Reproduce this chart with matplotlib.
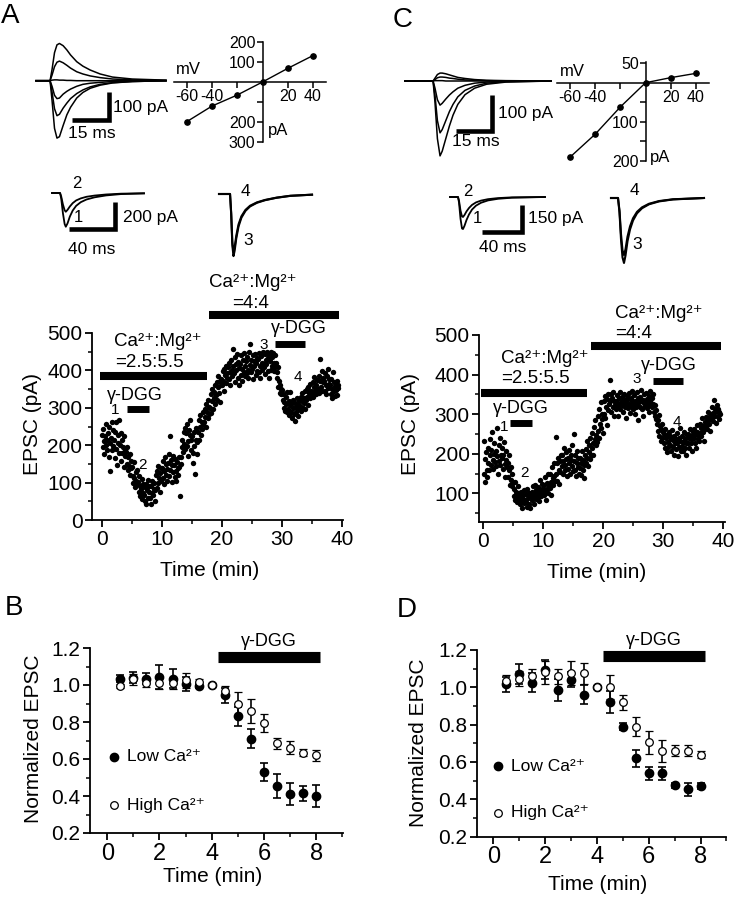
import numpy as np
import matplotlib
matplotlib.use('Agg')
import matplotlib.pyplot as plt
from matplotlib.ticker import MultipleLocator, FormatStrFormatter

plt.rcParams['font.family'] = ['Liberation Sans', 'DejaVu Sans']
plt.rcParams['axes.unicode_minus'] = False

# ---------------- data ----------------
# EPSC amplitude (pA), one row per minute, ~10 samples per minute
epsc_A = [
    [228, 195, 242, 210, 176, 225, 258, 200, 215, 186],
    [232, 168, 250, 205, 131, 220, 186, 262, 198, 240],
    [214, 165, 236, 262, 190, 148, 226, 205, 268, 178],
    [200, 232, 158, 214, 178, 196, 142, 225, 186, 170],
    [182, 150, 196, 134, 168, 145, 176, 121, 158, 140],
    [142, 118, 98, 156, 112, 88, 128, 104, 135, 96],
    [102, 76, 118, 64, 92, 84, 55, 110, 72, 95],
    [68, 88, 52, 96, 42, 80, 108, 60, 74, 92],
    [58, 90, 44, 72, 105, 66, 84, 98, 52, 80],
    [120, 86, 132, 98, 145, 112, 74, 126, 104, 138],
    [140, 112, 158, 96, 132, 168, 120, 150, 104, 136],
    [152, 118, 176, 225, 134, 160, 102, 146, 172, 128],
    [148, 116, 162, 130, 104, 156, 138, 120, 168, 142],
    [64, 168, 150, 196, 214, 182, 236, 204, 246, 190],
    [232, 198, 258, 212, 170, 240, 226, 268, 186, 214],
    [224, 180, 152, 236, 198, 122, 214, 246, 176, 208],
    [236, 268, 214, 282, 250, 226, 262, 244, 290, 258],
    [262, 298, 276, 310, 248, 288, 320, 272, 302, 284],
    [300, 336, 286, 350, 318, 296, 342, 326, 362, 310],
    [334, 368, 322, 356, 386, 340, 372, 316, 362, 378],
    [362, 398, 372, 346, 404, 388, 366, 412, 380, 394],
    [410, 378, 420, 396, 360, 428, 402, 384, 456, 412],
    [392, 436, 368, 418, 400, 444, 380, 422, 406, 362],
    [418, 388, 440, 404, 372, 428, 396, 446, 412, 384],
    [424, 392, 436, 400, 380, 448, 470, 414, 428, 396],
    [404, 440, 376, 426, 412, 444, 388, 420, 434, 398],
    [430, 396, 446, 412, 380, 438, 420, 402, 448, 416],
    [408, 444, 390, 428, 416, 450, 398, 432, 380, 440],
    [426, 450, 402, 436, 412, 446, 420, 398, 440, 408],
    [420, 396, 380, 408, 356, 372, 340, 362, 338, 350],
    [348, 322, 336, 300, 316, 292, 330, 310, 288, 342],
    [296, 318, 280, 308, 342, 290, 312, 274, 300, 322],
    [284, 312, 266, 302, 290, 326, 278, 308, 296, 318],
    [306, 330, 292, 318, 340, 300, 326, 312, 346, 296],
    [322, 350, 330, 308, 356, 340, 364, 326, 346, 334],
    [340, 368, 330, 356, 382, 346, 362, 336, 374, 350],
    [350, 386, 340, 372, 430, 356, 398, 344, 368, 380],
    [372, 346, 392, 360, 338, 384, 404, 352, 376, 364],
    [362, 336, 378, 350, 326, 396, 344, 370, 332, 358],
    [348, 372, 334, 360, 352],
]
epsc_C = [
    [232, 150, 186, 128, 204, 160, 142, 176, 214, 158],
    [196, 238, 172, 210, 255, 184, 162, 226, 200, 178],
    [206, 168, 194, 265, 150, 222, 182, 240, 172, 196],
    [188, 214, 162, 196, 230, 174, 140, 206, 184, 166],
    [176, 140, 198, 158, 122, 166, 134, 148, 118, 128],
    [112, 92, 128, 84, 104, 96, 78, 118, 88, 100],
    [92, 72, 104, 80, 64, 96, 86, 76, 108, 82],
    [78, 98, 66, 110, 88, 74, 102, 92, 62, 96],
    [104, 84, 118, 92, 74, 100, 122, 86, 108, 96],
    [90, 116, 102, 80, 134, 108, 94, 124, 112, 98],
    [120, 96, 140, 108, 84, 126, 112, 148, 102, 118],
    [114, 150, 128, 96, 166, 138, 120, 176, 144, 132],
    [243, 148, 176, 132, 190, 160, 124, 182, 154, 198],
    [168, 196, 150, 182, 214, 172, 158, 204, 186, 144],
    [190, 162, 210, 176, 148, 198, 184, 222, 170, 156],
    [182, 250, 160, 196, 144, 176, 208, 166, 188, 150],
    [164, 190, 146, 176, 206, 158, 184, 138, 172, 196],
    [176, 212, 190, 232, 168, 204, 222, 186, 240, 198],
    [214, 252, 226, 196, 268, 238, 286, 222, 248, 230],
    [258, 296, 240, 312, 276, 330, 264, 300, 288, 252],
    [300, 334, 290, 346, 318, 272, 338, 310, 352, 326],
    [386, 332, 350, 306, 340, 318, 356, 296, 334, 322],
    [334, 312, 348, 320, 296, 340, 326, 356, 314, 330],
    [322, 344, 306, 330, 352, 318, 336, 290, 328, 346],
    [338, 316, 354, 326, 304, 342, 320, 358, 332, 312],
    [326, 348, 300, 334, 318, 356, 322, 340, 286, 330],
    [344, 318, 332, 360, 312, 336, 296, 328, 350, 320],
    [330, 354, 316, 338, 322, 346, 306, 334, 358, 324],
    [340, 318, 352, 326, 306, 296, 322, 288, 310, 276],
    [284, 258, 298, 246, 270, 232, 262, 276, 240, 254],
    [250, 226, 262, 214, 240, 204, 248, 230, 218, 256],
    [222, 246, 206, 238, 260, 216, 234, 196, 244, 228],
    [236, 212, 252, 226, 194, 240, 218, 264, 232, 208],
    [220, 244, 206, 230, 254, 214, 236, 198, 226, 248],
    [228, 250, 214, 240, 262, 226, 244, 208, 236, 256],
    [240, 262, 226, 250, 214, 256, 272, 238, 248, 232],
    [252, 276, 244, 266, 290, 256, 270, 232, 262, 280],
    [270, 294, 262, 284, 306, 276, 292, 258, 288, 300],
    [290, 318, 282, 304, 336, 296, 312, 278, 308, 324],
    [296, 314, 288, 306, 300],
]

# treatment periods (min) and bar heights (pA)
caMg1_A, caMg2_A, dgg1_A, dgg2_A = (-0.2, 17.5, 385), (17.9, 39.6, 548), (4.2, 7.8, 297), (28.9, 33.8, 471)
caMg1_C, caMg2_C, dgg1_C, dgg2_C = (-0.4, 17.2, 353), (17.9, 39.6, 471), (4.45, 8.1, 278), (28.3, 33.2, 385)

# normalized EPSC summary
norm_t = [0.5, 1.0, 1.5, 2.0, 2.5, 3.0, 3.5, 4.0, 4.5, 5.0, 5.5, 6.0, 6.5, 7.0, 7.5, 8.0]
low_B = [1.035, 1.04, 1.035, 1.045, 1.035, 1.005, 0.995, 1.0, 0.945, 0.83, 0.71, 0.53, 0.455, 0.41, 0.415, 0.40]
low_B_err = [0.02, 0.03, 0.03, 0.065, 0.05, 0.04, 0.01, 0.0, 0.04, 0.05, 0.05, 0.05, 0.065, 0.06, 0.04, 0.06]
high_B = [0.995, 1.03, 1.01, 1.01, 1.01, 1.025, 1.015, 1.0, 0.965, 0.90, 0.86, 0.795, 0.685, 0.66, 0.635, 0.62]
high_B_err = [0.01, 0.03, 0.02, 0.03, 0.03, 0.04, 0.015, 0.0, 0.03, 0.06, 0.065, 0.05, 0.03, 0.035, 0.02, 0.03]
low_D = [1.015, 1.07, 1.025, 1.095, 0.985, 1.04, 0.96, 1.0, 0.92, 0.79, 0.62, 0.54, 0.54, 0.475, 0.455, 0.47]
low_D_err = [0.04, 0.055, 0.05, 0.05, 0.06, 0.04, 0.05, 0.0, 0.06, 0.02, 0.045, 0.035, 0.035, 0.015, 0.035, 0.015]
high_D = [1.035, 1.045, 1.06, 1.08, 1.06, 1.075, 1.075, 1.0, 1.0, 0.92, 0.79, 0.705, 0.66, 0.66, 0.66, 0.64]
high_D_err = [0.03, 0.04, 0.04, 0.06, 0.04, 0.065, 0.055, 0.0, 0.065, 0.04, 0.05, 0.06, 0.06, 0.03, 0.03, 0.02]
dgg_norm = (4.24, 8.16)

# I-V relations
iv_mv = [-60, -40, -20, 0, 20, 40]
iv_pa_A = [-198, -120, -65, 0, 68, 132]
iv_pa_C = [-191, -132, -62, 0, 13, 24]

# example current traces (ms, pA)
ivtr_t_A = [0, 5.7, 6.5, 7.5, 8.5, 9.5, 11, 12.5, 14, 16.5, 19, 22, 26, 31, 39, 52.7]
ivtr_A = [
    [0, 0, 40, 100, 128, 133, 125, 110, 92, 68, 52, 38, 24, 13, 6, 2],
    [0, 0, 20, 50, 66, 70, 64, 55, 45, 32, 24, 17, 11, 6, 3, 1],
    [0, 0, 2, 3, 3, 2, 2, 1, 1, 0, 0, 0, 0, 0, 0, 0],
    [0, 0, -20, -52, -64, -62, -48, -38, -30, -20, -13, -9, -6, -3, -1, 0],
    [0, 0, -40, -100, -125, -120, -98, -80, -64, -46, -33, -22, -13, -7, -3, 0],
    [0, 0, -70, -170, -205, -200, -160, -122, -95, -62, -42, -27, -16, -8, -3, 0],
]
ivtr_t_C = [0, 11.7, 12.5, 13.5, 14.6, 15.5, 17, 18.5, 20, 22, 25, 29, 34, 42, 60.8]
ivtr_C = [
    [0, 0, 8, 18, 22, 22, 20, 17, 14, 10, 7, 4, 2, 1, 0],
    [0, 0, 4, 9, 11, 11, 10, 8, 7, 5, 3, 2, 1, 0, 0],
    [0, 0, 1, 1, 1, 1, 0, 0, 0, 0, 0, 0, 0, 0, 0],
    [0, 0, -20, -52, -67, -62, -50, -39, -30, -20, -12, -6, -3, -1, 0],
    [0, 0, -40, -110, -144, -135, -110, -85, -65, -44, -26, -14, -6, -2, 0],
    [0, 0, -60, -160, -208, -195, -160, -125, -95, -65, -38, -20, -9, -3, 0],
]
tr12_t_A = [0, 7, 8, 9.5, 11, 12, 13.5, 15.5, 18, 21, 25, 30, 37, 47, 60, 80]
tr1_A = [0, 0, -40, -150, -230, -250, -225, -175, -130, -95, -68, -48, -32, -18, -8, -3]
tr2_A = [0, 0, -25, -85, -128, -139, -125, -100, -75, -55, -40, -28, -19, -11, -5, -2]
tr34_t_A = [0, 9.6, 10.6, 11.6, 12.6, 13.6, 15, 17, 19.5, 23, 27, 33, 40, 50, 62, 80.9]
tr3_A = [0, 0, -150, -380, -460, -420, -330, -240, -175, -125, -92, -65, -46, -28, -14, -5]
tr4_A = [0, 0, -140, -355, -430, -395, -310, -225, -165, -118, -87, -62, -44, -27, -13, -5]
tr12_t_C = [0, 8, 9, 10.5, 12, 13, 14.5, 16.5, 19, 22, 26, 31, 38, 48, 62, 95]
tr1_C = [0, 0, -30, -120, -175, -178, -160, -128, -97, -70, -48, -32, -19, -10, -4, 0]
tr2_C = [0, 0, -20, -75, -108, -111, -100, -80, -61, -44, -30, -20, -12, -6, -2, 0]
tr34_t_C = [0, 7, 8.5, 10, 11.5, 13, 14.5, 16.5, 19, 22, 26, 31, 38, 48, 62, 93]
tr3_C = [0, 0, -80, -230, -330, -361, -320, -240, -175, -125, -85, -57, -35, -19, -8, 0]
tr4_C = [0, 0, -70, -200, -290, -317, -285, -215, -158, -113, -77, -52, -32, -17, -7, 0]

CAMG = 'Ca\u00b2\u207a:Mg\u00b2\u207a'
DGG = '\u03b3-DGG'

# ---------------- layout helpers ----------------
W, H = 737, 900
fig = plt.figure(figsize=(W / 100, H / 100), dpi=100)


def px_axes(x0, y0, sx, sy, xlim, ylim):
    # x0/y0: pixel where data 0 sits, sx/sy: pixels per data unit
    left = x0 + xlim[0] * sx
    right = x0 + xlim[1] * sx
    top = y0 - ylim[1] * sy
    bottom = y0 - ylim[0] * sy
    ax = fig.add_axes([left / W, 1 - bottom / H, (right - left) / W, (bottom - top) / H])
    ax.set_xlim(xlim)
    ax.set_ylim(ylim)
    ax.patch.set_visible(False)
    return ax


def ptext(x, y, s, **kw):
    fig.text(x / W, 1 - y / H, s, **kw)


def style(ax, xlabsize=15):
    for s in ['top', 'right']:
        ax.spines[s].set_visible(False)
    for s in ['left', 'bottom']:
        ax.spines[s].set_linewidth(1.3)
    ax.tick_params(which='major', direction='out', length=5, width=1.3, labelsize=15, pad=2)
    ax.tick_params(axis='x', which='major', labelsize=xlabsize)
    ax.tick_params(which='minor', direction='out', length=3, width=1.1)


def bar(ax, span, lw):
    ax.plot([span[0], span[1]], [span[2], span[2]], color='k', lw=lw,
            solid_capstyle='butt', clip_on=False)


def flatten(rows):
    t, v = [], []
    for m, row in enumerate(rows):
        for k, val in enumerate(row):
            t.append(m + (k + 0.5) / 10)
            v.append(val)
    return t, v


def scalebar(ax, x0, x1, y0, y1):
    ax.plot([x0, x1, x1], [y1, y1, y0], color='k', lw=3.3, solid_joinstyle='miter',
            solid_capstyle='butt', clip_on=False)


# ---------------- time courses ----------------
def time_course(ax, rows, bars):
    t, v = flatten(rows)
    ax.scatter(t, v, s=15, c='k', linewidths=0, clip_on=False)
    style(ax, 15)
    ax.xaxis.set_major_locator(MultipleLocator(10))
    ax.xaxis.set_minor_locator(MultipleLocator(5))
    ax.yaxis.set_major_locator(MultipleLocator(100))
    ax.yaxis.set_minor_locator(MultipleLocator(50))
    for b, lw in zip(bars, [5.8, 5.8, 5.0, 5.0]):
        bar(ax, b, lw)


axA = px_axes(101.7, 520, 6.0, 0.374, (-1.6, 40.2), (0, 500))
time_course(axA, epsc_A, [caMg1_A, caMg2_A, dgg1_A, dgg2_A])
axA.text(2.05, 476, CAMG, fontsize=13.5, va='center')
axA.text(2.2, 420, '=2.5:5.5', fontsize=13.5, va='center')
axA.text(17.9, 634, CAMG, fontsize=13.5, va='center')
axA.text(21.7, 579, '=4:4', fontsize=13.5, va='center')
axA.text(0.8, 334, DGG, fontsize=13, va='center')
axA.text(28.2, 511, DGG, fontsize=13, va='center')
for s, x, y in [('1', 2.2, 294), ('2', 6.8, 147), ('3', 27.05, 468), ('4', 32.7, 383)]:
    axA.text(x, y, s, fontsize=11, ha='center', va='center')

axC = px_axes(483.3, 532.9, 6.0, 0.3958, (-0.67, 40.2), (28, 500))
time_course(axC, epsc_C, [caMg1_C, caMg2_C, dgg1_C, dgg2_C])
axC.text(2.95, 441, CAMG, fontsize=13.5, va='center')
axC.text(2.95, 389, '=2.5:5.5', fontsize=13.5, va='center')
axC.text(21.95, 555, CAMG, fontsize=13.5, va='center')
axC.text(21.95, 504, '=4:4', fontsize=13.5, va='center')
axC.text(1.57, 315, DGG, fontsize=13, va='center')
axC.text(26.2, 422, DGG, fontsize=13, va='center')
for s, x, y in [('1', 3.45, 268), ('2', 6.8, 151), ('3', 25.6, 388), ('4', 32.2, 281)]:
    axC.text(x, y, s, fontsize=11, ha='center', va='center')

ptext(32.5, 424, 'EPSC (pA)', fontsize=15, rotation=90, ha='center', va='center')
ptext(411, 424, 'EPSC (pA)', fontsize=15, rotation=90, ha='center', va='center')
ptext(210, 571, 'Time (min)', fontsize=15, ha='center', va='center')
ptext(597, 573, 'Time (min)', fontsize=15, ha='center', va='center')


# ---------------- normalized summaries ----------------
def summary(ax, low, low_err, high, high_err, dgg_y, leg_x, leg_y):
    ax.errorbar(norm_t, low, yerr=low_err, fmt='o', color='k', ms=6, elinewidth=1.2,
                capsize=2.8, capthick=1.2, clip_on=False)
    ax.errorbar(norm_t, high, yerr=high_err, fmt='o', color='k', mfc='white', mec='k',
                ms=5.5, mew=0.9, elinewidth=1.2, capsize=2.8, capthick=1.2, clip_on=False)
    style(ax, 17)
    ax.xaxis.set_major_locator(MultipleLocator(2))
    ax.xaxis.set_minor_locator(MultipleLocator(1))
    ax.yaxis.set_major_locator(MultipleLocator(0.2))
    ax.yaxis.set_minor_locator(MultipleLocator(0.1))
    ax.yaxis.set_major_formatter(FormatStrFormatter('%.1f'))
    bar(ax, (dgg_norm[0], dgg_norm[1], dgg_y), 8)
    ax.text((dgg_norm[0] + dgg_norm[1]) / 2, dgg_y + 0.085, DGG, fontsize=13,
            ha='center', va='center')
    ax.plot(leg_x, leg_y[0], 'o', color='k', ms=6, clip_on=False)
    ax.plot(leg_x, leg_y[1], 'o', mfc='white', mec='k', ms=5.5, mew=0.9, clip_on=False)
    ax.text(leg_x + 0.5, leg_y[0], 'Low Ca\u00b2\u207a', fontsize=12.5, va='center')
    ax.text(leg_x + 0.5, leg_y[1], 'High Ca\u00b2\u207a', fontsize=12.5, va='center')


axB = px_axes(107.3, 870, 26.1, 185, (-0.66, 9.04), (0.2, 1.2))
summary(axB, low_B, low_B_err, high_B, high_B_err, 1.15, 0.27, (0.612, 0.351))
axD = px_axes(493.3, 874, 25.9, 186.7, (-0.62, 9.0), (0.2, 1.2))
summary(axD, low_D, low_D_err, high_D, high_D_err, 1.167, 0.19, (0.578, 0.328))

ptext(33.5, 739, 'Normalized EPSC', fontsize=15, rotation=90, ha='center', va='center')
ptext(419, 743, 'Normalized EPSC', fontsize=15, rotation=90, ha='center', va='center')
ptext(213, 876, 'Time (min)', fontsize=15, ha='center', va='center')
ptext(598, 885, 'Time (min)', fontsize=15, ha='center', va='center')


# ---------------- I-V insets ----------------
def iv_plot(ax, pa, yticks, ylabels, mv_pos, pa_pos):
    ax.plot(iv_mv, pa, color='k', lw=1, marker='o', ms=3.8, clip_on=False)
    for s in ['top', 'right']:
        ax.spines[s].set_visible(False)
    ax.spines['left'].set_position(('data', 0))
    ax.spines['bottom'].set_position(('data', 0))
    for s in ['left', 'bottom']:
        ax.spines[s].set_linewidth(1.1)
    ax.set_xticks([-60, -40, -20, 20, 40])
    ax.set_xticklabels(['-60', '-40', '', '20', '40'])
    ax.set_yticks(yticks)
    ax.set_yticklabels(ylabels)
    ax.tick_params(direction='out', length=4, width=1.1, labelsize=11.5, pad=1)
    ax.text(mv_pos[0], mv_pos[1], 'mV', fontsize=12, ha='center', va='center')
    ax.text(pa_pos[0], pa_pos[1], 'pA', fontsize=12, ha='center', va='center')


axIVa = px_axes(262.5, 82, 1.26, 0.2, (-70, 50), (-300, 200))
iv_plot(axIVa, iv_pa_A, [200, 100, -100, -200, -300], ['200', '100', '', '200', '300'],
        (-59, 60), (12, -240))
axIVc = px_axes(645.6, 82.7, 1.26, 0.39, (-70, 50), (-200, 53))
iv_plot(axIVc, iv_pa_C, [50, -50, -100, -150, -200], ['50', '', '100', '', '200'],
        (-58.4, 28), (11.4, -192))


# ---------------- current traces ----------------
def traces(ax, t, ys, lw=1.1):
    for y in ys:
        ax.plot(t, y, color='k', lw=lw, clip_on=False)
    ax.axis('off')


axTa = px_axes(36, 80.7, 2.467, 0.28, (0, 52.7), (-250, 165))
traces(axTa, ivtr_t_A, ivtr_A)
scalebar(axTa, 14.4, 29.4, -40, -140)
axTa.text(31.3, -97, '100 pA', fontsize=12.5, va='center')
axTa.text(22.7, -190, '15 ms', fontsize=12.5, ha='center', va='center')

axTc = px_axes(405, 81, 2.4, 0.36, (0, 60.8), (-250, 60))
traces(axTc, ivtr_t_C, ivtr_C)
scalebar(axTc, 21.25, 36.25, -38.9, -138.9)
axTc.text(38.75, -89, '100 pA', fontsize=12.5, va='center')
axTc.text(29.6, -169, '15 ms', fontsize=12.5, ha='center', va='center')

ax12a = px_axes(52, 193, 1.15, 0.135, (0, 80), (-450, 100))
traces(ax12a, tr12_t_A, [tr1_A, tr2_A], 1.3)
scalebar(ax12a, 14.8, 54.8, -66.7, -266.7)
ax12a.text(61.7, -185, '200 pA', fontsize=12.5, va='center')
ax12a.text(34.8, -422, '40 ms', fontsize=12.5, ha='center', va='center')
ax12a.text(21.7, 74, '2', fontsize=12, ha='center', va='center')
ax12a.text(22.6, -185, '1', fontsize=12, ha='center', va='center')

ax34a = px_axes(219, 194, 1.15, 0.135, (0, 81), (-480, 100))
traces(ax34a, tr34_t_A, [tr3_A, tr4_A], 1.5)
ax34a.text(22.6, 15, '4', fontsize=12.5, ha='center', va='center')
ax34a.text(25.2, -348, '3', fontsize=12.5, ha='center', va='center')

ax12c = px_axes(450, 197, 1.0, 0.18, (0, 95), (-320, 60))
traces(ax12c, tr12_t_C, [tr1_C, tr2_C], 1.3)
scalebar(ax12c, 32, 72, -44.4, -194.4)
ax12c.text(78, -122, '150 pA', fontsize=12.5, va='center')
ax12c.text(53, -283, '40 ms', fontsize=12.5, ha='center', va='center')
ax12c.text(18, 28, '2', fontsize=12, ha='center', va='center')
ax12c.text(27, -122, '1', fontsize=12, ha='center', va='center')

ax34c = px_axes(611, 198, 1.0, 0.18, (0, 93), (-380, 60))
traces(ax34c, tr34_t_C, [tr3_C, tr4_C], 1.5)
ax34c.text(23, 39, '4', fontsize=12.5, ha='center', va='center')
ax34c.text(26, -261, '3', fontsize=12.5, ha='center', va='center')

# panel letters
for s, x, y in [('A', 1, 22.7), ('B', 5, 615), ('C', 393, 26.7), ('D', 397, 617)]:
    ptext(x, y, s, fontsize=20, ha='left', va='baseline')

fig.savefig('out.png', dpi=100)
